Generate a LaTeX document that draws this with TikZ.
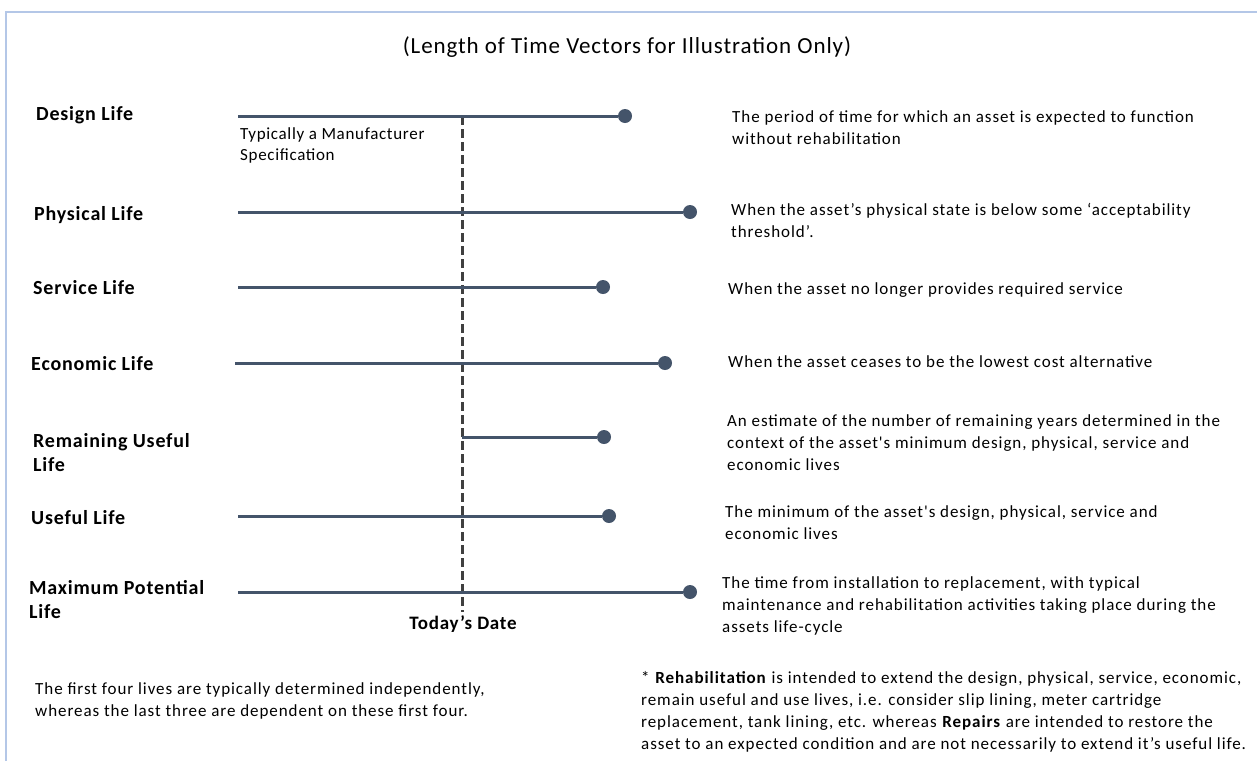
\documentclass[tikz,border=0pt]{standalone}
\usepackage{fontspec}
\setmainfont{Carlito}
\newfontfamily\descfont[LetterSpace=5.5]{Carlito}
\newfontfamily\lblfont[LetterSpace=4]{Carlito}
\usepackage{xcolor}
\usetikzlibrary{positioning}

\definecolor{vecblue}{HTML}{44546A}
\definecolor{framebl}{HTML}{B4C7E7}
\definecolor{dashgr}{HTML}{404040}

\tikzset{
    lbl/.style={anchor=base west, align=left, inner sep=0pt, font=\lblfont\bfseries\fontsize{20}{24}\selectfont},
    desc/.style={anchor=base west, align=left, inner sep=0pt, font=\descfont\fontsize{17}{22}\selectfont},
    vec/.style={draw=vecblue, line width=3pt},
    dot/.style={circle, fill=vecblue, minimum size=14pt, inner sep=0pt}
}

\begin{document}
\begin{tikzpicture}[x=1pt, y=-1pt]
        \useasboundingbox (0,0) rectangle (1257,761);
        \draw[framebl, line width=2pt] (6,761) -- (6,12) -- (1257,12);

        \node[anchor=base, inner sep=0pt, font=\lblfont\fontsize{23}{26}\selectfont] (title) at (627,53) {(Length of Time Vectors for Illustration Only)};

        % life labels (base = last line)
        \node[lbl] (ldes) at (36,120) {Design Life};
        \node[lbl] (lphy) at (34,220) {Physical Life};
        \node[lbl] (lser) at (33,294) {Service Life};
        \node[lbl] (leco) at (31,370) {Economic Life};
        \node[lbl] (lrem) at (33,471) {Remaining Useful\\Life};
        \node[lbl] (luse) at (31,524) {Useful Life};
        \node[lbl] (lmax) at (29,618) {Maximum Potential\\Life};

        % today's date
        \coordinate (ttop) at (462,116);
        \coordinate (tbot) at (462,612);
        \draw[dashgr, line width=3pt, dash pattern=on 9pt off 4pt] (ttop) -- (tbot);
        \node[anchor=base, inner sep=0pt, font=\lblfont\bfseries\fontsize{19}{22}\selectfont] (today) at (463,629) {Today’s Date};

        % time vectors
        \coordinate (sdes) at (238,116);
        \coordinate (sphy) at (238,212);
        \coordinate (sser) at (238,287);
        \coordinate (seco) at (235,363);
        \coordinate (srem) at (462,437);
        \coordinate (suse) at (238,516);
        \coordinate (smax) at (238,592);
        \node[dot] (edes) at (625,116) {};
        \node[dot] (ephy) at (690,212) {};
        \node[dot] (eser) at (603,287) {};
        \node[dot] (eeco) at (665,363) {};
        \node[dot] (erem) at (604,437) {};
        \node[dot] (euse) at (609,516) {};
        \node[dot] (emax) at (690,592) {};
        \draw[vec] (sdes) -- (edes)
            (sphy) -- (ephy)
            (sser) -- (eser)
            (seco) -- (eeco)
            (srem) -- (erem)
            (suse) -- (euse)
            (smax) -- (emax);

        \node[desc, font=\lblfont\fontsize{17}{21}\selectfont] (manuf) at (240,160) {Typically a Manufacturer\\Specification};

        % descriptions (base = last line)
        \node[desc] (ddes) at (732,144) {The period of time for which an asset is expected to function\\without  rehabilitation};
        \node[desc] (dphy) at (731,237) {When the asset’s physical state is below some ‘acceptability\\threshold’.};
        \node[desc] (dser) at (728,294) {When the asset no longer provides required  service};
        \node[desc] (deco) at (728,367) {When the asset ceases to be the lowest cost alternative};
        \node[desc] (drem) at (727,470) {An estimate of the number  of remaining years determined  in the\\context of the asset's minimum design, physical, service and\\economic lives};
        \node[desc] (duse) at (725,539) {The minimum  of the asset's design, physical, service and\\economic lives};
        \node[desc] (dmax) at (722,632) {The time from installation to replacement,  with typical\\maintenance and rehabilitation activities taking place during the\\assets life-cycle};

        % notes
        \node[desc] (nfirst) at (35,716) {The first four lives are typically determined  independently,\\whereas the last three are dependent  on these first four.};
        \node[desc] (nrehab) at (641,749) {*  \textbf{Rehabilitation} is intended to extend the design, physical, service, economic,\\remain useful and use lives, i.e. consider slip lining, meter cartridge\\replacement, tank lining, etc. whereas \textbf{Repairs} are intended to restore the\\asset to an expected condition and are not necessarily to extend it’s useful life.};
    \end{tikzpicture}
\end{document}
